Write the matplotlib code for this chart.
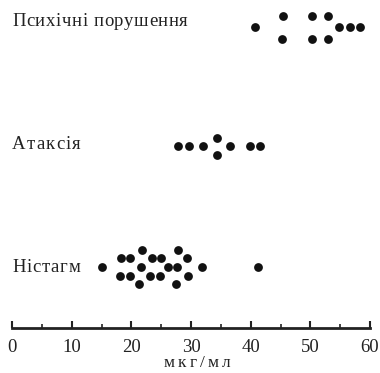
import matplotlib
matplotlib.use("Agg")
import matplotlib.pyplot as plt
import numpy as np

# Data: concentration values (мкг/мл) for each symptom group, with row level in the swarm
groups = ["Психічні порушення", "Атаксія", "Ністагм"]

psych_x = [40.7, 45.4, 45.3, 50.2, 50.2, 53.0, 52.9, 54.8, 56.7, 58.4]
psych_row = [0, -1, 1, -1, 1, -1, 1, 0, 0, 0]

ataxia_x = [27.9, 29.7, 32.0, 34.4, 34.4, 36.6, 39.9, 41.5]
ataxia_row = [0, 0, 0, -1, 1, 0, 0, 0]

nyst_x = [15.0, 18.2, 19.8, 21.8, 23.4, 24.9, 21.6, 26.1, 27.7, 27.9, 29.4, 31.9, 41.3,
          18.1, 19.8, 21.3, 23.1, 24.8, 27.5, 29.5]
nyst_row = [0, -1, -1, -2, -1, -1, 0, 0, 0, -2, -1, 0, 0,
            1, 1, 2, 1, 1, 2, 1]

xticks = [0, 10, 20, 30, 40, 50, 60]
xlabel = "мкг/мл"

W, H = 380, 373
fig = plt.figure(figsize=(W / 100, H / 100), dpi=100)
ax_bottom_px = 328
x0_px, x1_px = 12, 370
ax = fig.add_axes([x0_px / W, (H - ax_bottom_px) / H, (x1_px - x0_px) / W, ax_bottom_px / H])
ax.set_xlim(0, 60)
ax.set_ylim(ax_bottom_px, 0)

centers = [27, 146, 267]
row_step = [11.5, 8.5, 8.7]
data = [(psych_x, psych_row), (ataxia_x, ataxia_row), (nyst_x, nyst_row)]
for (xs, rows), c, st in zip(data, centers, row_step):
    ys = [c + r * st for r in rows]
    ax.scatter(xs, ys, s=40, color="#111111", marker="o", linewidths=0, zorder=3)

renderer = fig.canvas.get_renderer()
FONT = "Liberation Serif"


def spaced_text(s, x_left_px, y_base_px, target_w_px, size, ha="left"):
    """Draw string char by char with letter spacing so it spans target width."""
    arts = []
    widths = []
    for ch in s:
        t = fig.text(0, 0, ch, fontsize=size, family=FONT, color="#222222",
                     ha="left", va="baseline")
        if ch == " ":
            w = size * 100 / 72 * 0.25
        else:
            w = t.get_window_extent(renderer).width
        arts.append(t)
        widths.append(w)
    natural = sum(widths)
    gap = max((target_w_px - natural) / max(len(s) - 1, 1), 0.6)
    total = natural + gap * (len(s) - 1)
    x = x_left_px if ha == "left" else x_left_px - total / 2
    for t, w in zip(arts, widths):
        t.set_position((x / W, 1 - y_base_px / H))
        x += w + gap


label_base = [26, 149, 272.5]
label_w = [176, 69, 68]
for g, y, tw in zip(groups, label_base, label_w):
    spaced_text(g, 12, y, tw, 13.5)

for sp in ["top", "right", "left"]:
    ax.spines[sp].set_visible(False)
ax.spines["bottom"].set_linewidth(2.0)
ax.spines["bottom"].set_color("#222222")
ax.set_yticks([])
ax.set_xticks(xticks)
ax.set_xticks(np.arange(5, 60, 5), minor=True)
ax.tick_params(axis="x", direction="in", length=5, width=1.5, color="#222222",
               labelsize=13.5, pad=8, labelcolor="#222222")
ax.tick_params(axis="x", which="minor", direction="in", length=3, width=1.2, color="#222222")
for lab in ax.get_xticklabels():
    lab.set_family(FONT)

spaced_text(xlabel, 197, 367, 66, 12.5, ha="center")

fig.savefig("out.png", dpi=100)
